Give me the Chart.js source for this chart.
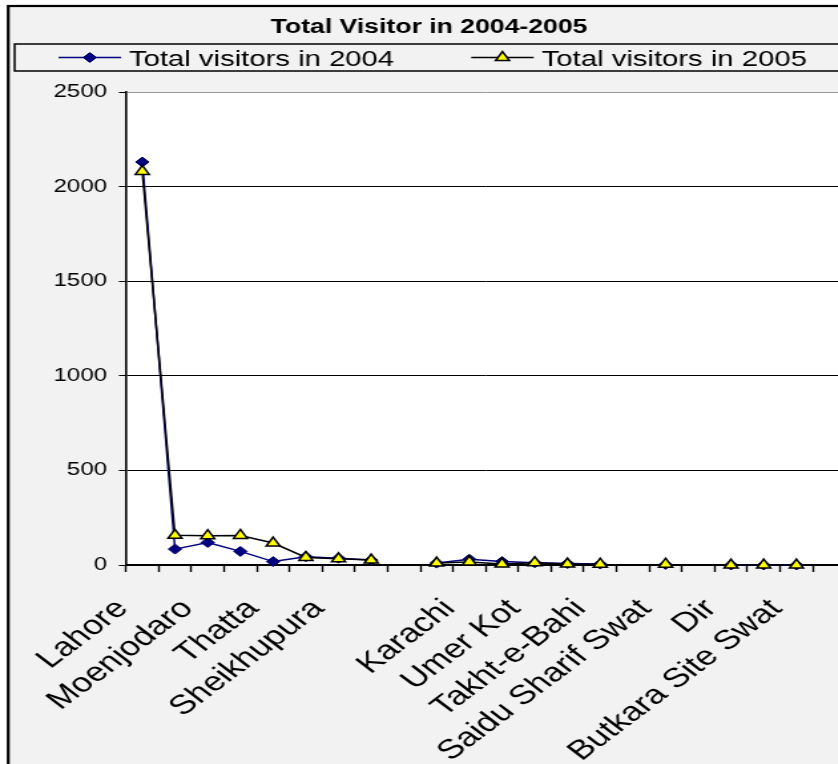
<!DOCTYPE html>
<html>
<head>
<meta charset="utf-8">
<title>Total Visitor in 2004-2005</title>
<script src="https://cdn.jsdelivr.net/npm/chart.js@4.4.1/dist/chart.umd.min.js"></script>
<style>
  html, body { margin: 0; padding: 0; background: #fff; overflow: hidden; }
  /* the original Excel picture was pasted stretched sideways, so the whole chart is */
  #wrap { width: 645px; height: 780px; transform: scaleX(1.33); transform-origin: 0 0; }
  canvas { display: block; }
</style>
</head>
<body>
<div id="wrap"><canvas id="visitor-chart" width="645" height="780"></canvas></div>
<script>
// Sites on the x axis - Excel only printed every second name, the rest are blank
const categories = ['Lahore', '', 'Moenjodaro', '', 'Thatta', '', 'Sheikhupura', '', '', '',
  'Karachi', '', 'Umer Kot', '', 'Takht-e-Bahi', '', 'Saidu Sharif Swat', '', 'Dir', '',
  'Butkara Site Swat', ''];
const visitors2004 = [2130, 84, 119, 72, 18, 44, 36, 26, null, 10, 30, 18, 12, 8, 5, null, 3, null, 0, 0, 0, null];
const visitors2005 = [2080, 157, 155, 156, 116, 40, 33, 26, null, 10, 16, 5, 12, 5, 4, null, 4, null, 0, 0, 0, null];
const yTicks = [0, 500, 1000, 1500, 2000, 2500];

const FONT = "'Liberation Sans', Arial, sans-serif";

/**
 * Grey chart background, white plot area and the outer frame
 */
const backgroundPlugin = {
  id: 'excelBackground',
  beforeDraw(chart) {
    const { ctx, chartArea, width, height } = chart;
    ctx.save();
    ctx.fillStyle = '#ffffff';
    ctx.fillRect(0, 0, width, height);
    ctx.fillStyle = '#f2f2f2';
    ctx.fillRect(6, 6, width - 12, height);
    ctx.fillStyle = '#ffffff';
    ctx.fillRect(chartArea.left, chartArea.top, chartArea.right - chartArea.left, chartArea.bottom - chartArea.top);
    ctx.restore();
  },
  afterDraw(chart) {
    const { ctx, width, height } = chart;
    ctx.save();
    ctx.strokeStyle = '#000000';
    ctx.lineWidth = 2.2;
    ctx.strokeRect(6.2, 6, width - 12.4, height + 10);
    ctx.restore();
  }
};

/**
 * Excel style legend: boxed row with a line + marker sample for each series
 */
const legendPlugin = {
  id: 'excelLegend',
  afterDraw(chart) {
    const { ctx, width } = chart;
    const top = 44;
    const bottom = 71;
    const midY = (top + bottom) / 2;
    const sampleWidth = 47;
    const gapAfterSample = 6;
    const gapBetweenItems = 58;

    ctx.save();
    ctx.strokeStyle = '#000000';
    ctx.lineWidth = 1.5;
    ctx.strokeRect(11, top, width - 22, bottom - top);

    ctx.font = '22px ' + FONT;
    ctx.textBaseline = 'middle';
    ctx.textAlign = 'left';

    let x = 44;
    chart.data.datasets.forEach(ds => {
      // line sample
      ctx.strokeStyle = ds.borderColor;
      ctx.lineWidth = ds.borderWidth;
      ctx.beginPath();
      ctx.moveTo(x, midY);
      ctx.lineTo(x + sampleWidth, midY);
      ctx.stroke();

      // marker
      ctx.fillStyle = ds.pointBackgroundColor;
      ctx.strokeStyle = ds.pointBorderColor;
      ctx.lineWidth = ds.pointBorderWidth;
      if (Chart.helpers && Chart.helpers.drawPoint) {
        Chart.helpers.drawPoint(ctx, {
          pointStyle: ds.pointStyle,
          radius: ds.pointRadius,
          rotation: 0,
          borderWidth: ds.pointBorderWidth
        }, x + sampleWidth / 2, midY);
      }

      // text
      ctx.fillStyle = '#000000';
      ctx.fillText(ds.label, x + sampleWidth + gapAfterSample, midY + 2);
      x += sampleWidth + gapAfterSample + ctx.measureText(ds.label).width + gapBetweenItems;
    });
    ctx.restore();
  }
};

const chartCanvas = document.getElementById('visitor-chart');

new Chart(chartCanvas, {
  type: 'line',
  data: {
    labels: categories,
    datasets: [
      {
        label: 'Total visitors in 2004',
        data: visitors2004,
        borderColor: '#000080',
        borderWidth: 1.5,
        pointStyle: 'rectRot',
        pointRadius: 5,
        pointBackgroundColor: '#000080',
        pointBorderColor: '#000060',
        pointBorderWidth: 1,
        spanGaps: false,
        clip: false,
        order: 2
      },
      {
        label: 'Total visitors in 2005',
        data: visitors2005,
        borderColor: '#000000',
        borderWidth: 1.5,
        pointStyle: 'triangle',
        pointRadius: 6,
        pointBackgroundColor: '#ffff00',
        pointBorderColor: '#000000',
        pointBorderWidth: 1.5,
        spanGaps: false,
        clip: false,
        order: 1
      }
    ]
  },
  options: {
    responsive: false,
    animation: false,
    devicePixelRatio: 1,
    layout: {
      padding: { top: 6, left: 9.5, right: 9.3, bottom: 0 }
    },
    elements: {
      line: { tension: 0 }
    },
    plugins: {
      legend: { display: false },
      tooltip: { enabled: false },
      title: {
        display: true,
        text: 'Total Visitor in 2004-2005',
        color: '#000000',
        font: { family: FONT, size: 20, weight: 'bold' },
        padding: { top: 9, bottom: 53 }
      }
    },
    scales: {
      x: {
        type: 'category',
        offset: true,
        afterFit(scale) {
          scale.height = 215;
          // rotated labels must not squeeze the plot sideways
          scale.paddingLeft = 0;
          scale.paddingRight = 0;
        },
        grid: {
          offset: true,
          drawOnChartArea: false,
          drawTicks: true,
          tickLength: 7,
          tickWidth: 1.4,
          tickColor: '#000000'
        },
        border: { display: true, color: '#000000', width: 2 },
        ticks: {
          autoSkip: false,
          maxRotation: 45,
          minRotation: 45,
          padding: 21,
          labelOffset: -15,
          color: '#000000',
          font: { family: FONT, size: 27 }
        }
      },
      y: {
        min: 0,
        max: 2500,
        afterFit(scale) {
          scale.width = 85.2;
        },
        afterBuildTicks(scale) {
          scale.ticks = yTicks.map(v => ({ value: v }));
        },
        grid: {
          color: ctx => (ctx.tick && ctx.tick.value === 2500 ? '#9a9a9a' : '#000000'),
          lineWidth: 1,
          drawTicks: true,
          tickLength: 5.3,
          tickColor: '#000000'
        },
        border: { display: true, color: '#000000', width: 1.6 },
        ticks: {
          padding: 9,
          color: '#000000',
          font: { family: FONT, size: 18 },
          callback: value => String(value)
        }
      }
    }
  },
  plugins: [backgroundPlugin, legendPlugin]
});
</script>
</body>
</html>
